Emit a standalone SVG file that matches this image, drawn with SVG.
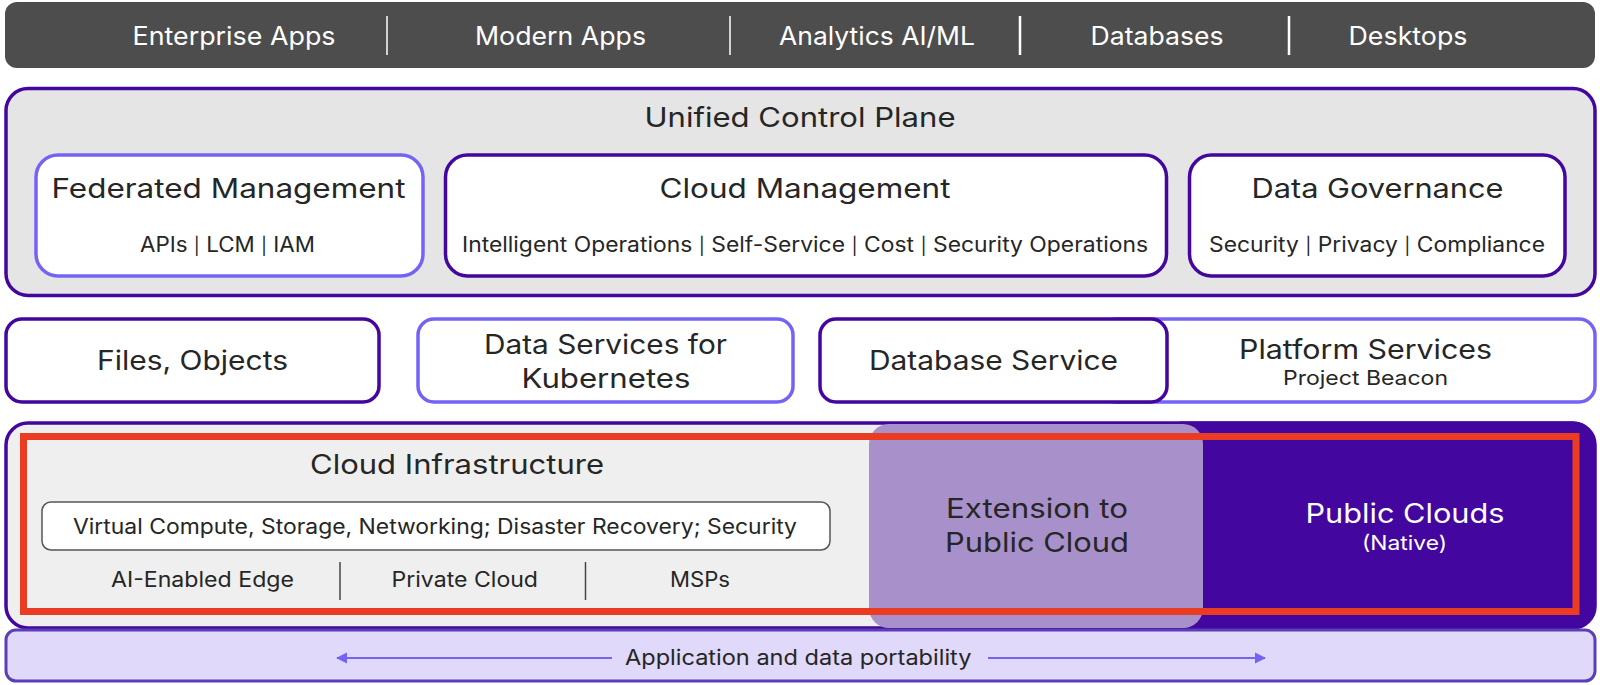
<svg xmlns="http://www.w3.org/2000/svg" width="1600" height="685" viewBox="0 0 1600 685">
<style>
text{font-family:"Inter","Noto Sans","Liberation Sans",sans-serif;fill:#262626}
.t{font-size:27px}.s{font-size:21px}.b{font-size:25px}.w{fill:#fff}
.p{font-size:17px}
.dark{stroke:#43079f;stroke-width:3.5;fill:#fff}
.lite{stroke:#7563f5;stroke-width:3.5;fill:#fff}
.sepw{stroke:#fff;stroke-width:1.5}
.sepd{stroke:#444;stroke-width:1.5}
</style>
<defs>
<marker id="arrow" markerWidth="11" markerHeight="12" refX="10" refY="6" orient="auto-start-reverse" markerUnits="userSpaceOnUse"><path d="M0 0.500L11 6L0 11.500Z" fill="#7563f5"/></marker>
</defs>
<rect width="1600" height="685" fill="#fff"/>
<g id="workloads">
<rect x="5" y="2" width="1590" height="66" rx="12" fill="#4d4d4d"/>
<line class="sepw" x1="387" y1="16" x2="387" y2="55"/>
<line class="sepw" x1="730" y1="16" x2="730" y2="55"/>
<line class="sepw" style="stroke-width:2.5" x1="1020" y1="16" x2="1020" y2="55"/>
<line class="sepw" style="stroke-width:2.5" x1="1289" y1="16" x2="1289" y2="55"/>
<text class="b w" x="132.500" y="45" textLength="203" lengthAdjust="spacingAndGlyphs">Enterprise Apps</text>
<text class="b w" x="475" y="45" textLength="171" lengthAdjust="spacingAndGlyphs">Modern Apps</text>
<text class="b w" x="779" y="45" textLength="196" lengthAdjust="spacingAndGlyphs">Analytics AI/ML</text>
<text class="b w" x="1090.500" y="45" textLength="133" lengthAdjust="spacingAndGlyphs">Databases</text>
<text class="b w" x="1348.500" y="45" textLength="119" lengthAdjust="spacingAndGlyphs">Desktops</text>
</g>
<g id="control-plane">
<rect x="6" y="88.500" width="1589" height="207" rx="22" fill="#e5e5e5" stroke="#43079f" stroke-width="3.500"/>
<text class="t" x="644.500" y="127" textLength="311" lengthAdjust="spacingAndGlyphs">Unified Control Plane</text>
</g>
<g id="federated-management">
<rect class="lite" x="36" y="155" width="387" height="121" rx="22"/>
<text class="t" x="51.500" y="198" textLength="354" lengthAdjust="spacingAndGlyphs">Federated Management</text>
<text class="s" x="140" y="252" textLength="175" lengthAdjust="spacingAndGlyphs">APIs <tspan class="p">|</tspan> LCM <tspan class="p">|</tspan> IAM</text>
</g>
<g id="cloud-management">
<rect class="dark" x="445.500" y="155" width="721" height="121" rx="22"/>
<text class="t" x="659.500" y="198" textLength="291" lengthAdjust="spacingAndGlyphs">Cloud Management</text>
<text class="s" x="462" y="252" textLength="686" lengthAdjust="spacingAndGlyphs">Intelligent Operations <tspan class="p">|</tspan> Self-Service <tspan class="p">|</tspan> Cost <tspan class="p">|</tspan> Security Operations</text>
</g>
<g id="data-governance">
<rect class="dark" x="1189.500" y="155" width="375.500" height="121" rx="22"/>
<text class="t" x="1251.500" y="198" textLength="252" lengthAdjust="spacingAndGlyphs">Data Governance</text>
<text class="s" x="1209" y="252" textLength="336" lengthAdjust="spacingAndGlyphs">Security <tspan class="p">|</tspan> Privacy <tspan class="p">|</tspan> Compliance</text>
</g>
<g id="files-objects">
<rect class="dark" x="6" y="319" width="373" height="83" rx="16"/>
<text class="t" x="97" y="370" textLength="191" lengthAdjust="spacingAndGlyphs">Files, Objects</text>
</g>
<g id="data-services">
<rect class="lite" x="418" y="319" width="375" height="83" rx="16"/>
<text class="t" x="484" y="354" textLength="243" lengthAdjust="spacingAndGlyphs">Data Services for</text>
<text class="t" x="521.500" y="388" textLength="169" lengthAdjust="spacingAndGlyphs">Kubernetes</text>
</g>
<g id="platform-services">
<rect class="lite" x="1100" y="319" width="495" height="83" rx="16"/>
<text class="t" x="1239" y="359" textLength="253" lengthAdjust="spacingAndGlyphs">Platform Services</text>
<text class="s" style="font-size:20px" x="1283" y="385" textLength="165" lengthAdjust="spacingAndGlyphs">Project Beacon</text>
</g>
<g id="database-service">
<rect class="dark" x="820" y="319" width="347" height="83" rx="16"/>
<text class="t" x="869" y="370" textLength="249" lengthAdjust="spacingAndGlyphs">Database Service</text>
</g>
<g id="cloud-infrastructure">
<rect x="6" y="423" width="1589" height="205" rx="22" fill="#efefef" stroke="#43079f" stroke-width="3.500"/>
<text class="t" x="310" y="474" textLength="294" lengthAdjust="spacingAndGlyphs">Cloud Infrastructure</text>
<rect x="42" y="502" width="788" height="48" rx="9" fill="#fff" stroke="#555" stroke-width="1.500"/>
<text class="s" x="73" y="534" textLength="724" lengthAdjust="spacingAndGlyphs">Virtual Compute, Storage, Networking; Disaster Recovery; Security</text>
<line class="sepd" x1="340" y1="562" x2="340" y2="600"/>
<line class="sepd" x1="585.500" y1="562" x2="585.500" y2="600"/>
<text class="s" x="111" y="587" textLength="183" lengthAdjust="spacingAndGlyphs">AI-Enabled Edge</text>
<text class="s" x="391.500" y="587" textLength="146.500" lengthAdjust="spacingAndGlyphs">Private Cloud</text>
<text class="s" x="670" y="587" textLength="60" lengthAdjust="spacingAndGlyphs">MSPs</text>
</g>
<g id="public-clouds">
<path d="M1180 421.500H1573a22 22 0 0 1 22 22V606a22 22 0 0 1-22 22H1180Z" fill="#43079f"/>
<text class="t w" x="1305.500" y="523" textLength="199" lengthAdjust="spacingAndGlyphs">Public Clouds</text>
<text class="s w" style="font-size:20px" x="1362" y="550" textLength="85" lengthAdjust="spacingAndGlyphs">(Native)</text>
</g>
<g id="extension">
<rect x="869" y="424" width="334" height="204" rx="20" fill="#a891cb"/>
<text class="t" x="946" y="518" textLength="182" lengthAdjust="spacingAndGlyphs">Extension to</text>
<text class="t" x="945" y="552" textLength="184" lengthAdjust="spacingAndGlyphs">Public Cloud</text>
</g>
<g id="highlight">
<rect x="23.500" y="436.500" width="1552.500" height="175" fill="none" stroke="#ea3c23" stroke-width="7"/>
</g>
<g id="portability">
<rect x="6" y="630" width="1589" height="51" rx="10" fill="#e0d9f9" stroke="#5a3fb8" stroke-width="3"/>
<text class="s" x="625" y="665" textLength="346.500" lengthAdjust="spacingAndGlyphs">Application and data portability</text>
</g>
<g id="connectors" fill="none" stroke="#7563f5" stroke-width="2">
<line x1="612" y1="658" x2="337" y2="658" marker-end="url(#arrow)"/>
<line x1="988" y1="658" x2="1265" y2="658" marker-end="url(#arrow)"/>
</g>
</svg>
